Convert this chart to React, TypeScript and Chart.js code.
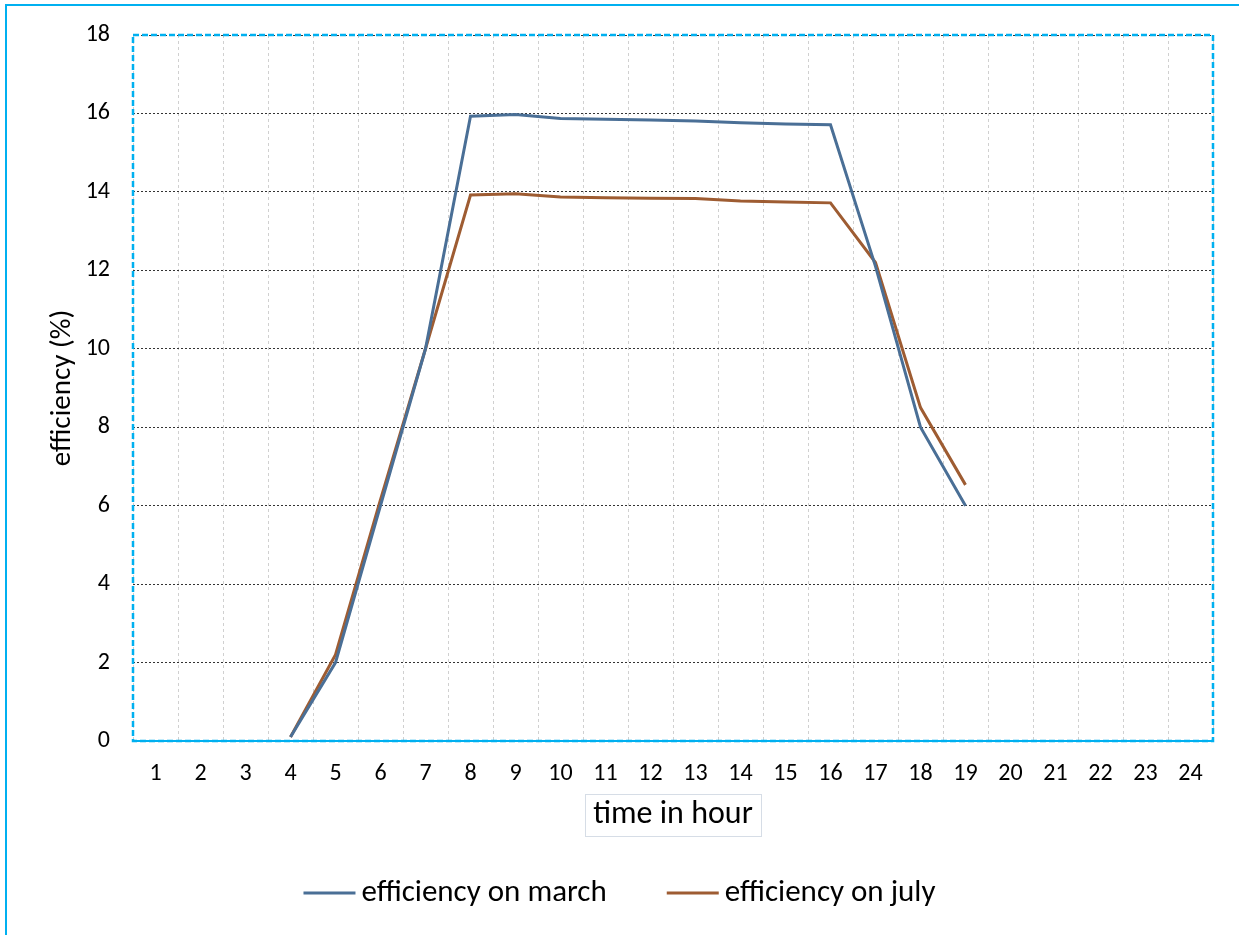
import React, { useEffect, useRef } from "react";
import { Chart, registerables } from "chart.js";

Chart.register(...registerables);

// Hour of day on the category axis
const hours = [
  "1", "2", "3", "4", "5", "6", "7", "8", "9", "10", "11", "12",
  "13", "14", "15", "16", "17", "18", "19", "20", "21", "22", "23", "24",
];

// Efficiency (%) per hour; null where the panel produces nothing
const marchEfficiency = [
  null, null, null, 0.1, 2.0, 6.0, 10.0, 15.93, 15.97, 15.87, 15.85, 15.83,
  15.81, 15.76, 15.73, 15.71, 12.1, 8.0, 6.0, null, null, null, null, null,
];
const julyEfficiency = [
  null, null, null, 0.1, 2.2, 6.15, 10.0, 13.92, 13.95, 13.87, 13.85, 13.84,
  13.83, 13.77, 13.74, 13.72, 12.2, 8.5, 6.53, null, null, null, null, null,
];

const seriesNames = ["efficiency on march", "efficiency on july"];
const seriesColors = ["#4a6f96", "#9e5c32"];

const FONT = "Carlito, Lato, 'Open Sans', sans-serif";
const CYAN = "#00b0f0";
const LEGEND_SIZE = 31;

// Frame, dashed plot border, boxed x-axis title and the legend row
const decorations = {
  id: "decorations",
  afterDraw(chart: any) {
    const { ctx, chartArea } = chart;
    const { left, right, top, bottom } = chartArea;
    ctx.save();

    // outer frame (top and left edges)
    ctx.strokeStyle = CYAN;
    ctx.lineWidth = 2;
    ctx.beginPath();
    ctx.moveTo(6, chart.height);
    ctx.lineTo(6, 5);
    ctx.lineTo(chart.width, 5);
    ctx.stroke();

    // dashed plot-area border
    ctx.setLineDash([6, 3]);
    ctx.lineWidth = 2.5;
    ctx.strokeStyle = CYAN;
    ctx.strokeRect(left, top, right - left, bottom - top);
    ctx.setLineDash([]);

    // solid category axis line
    ctx.lineWidth = 2;
    ctx.beginPath();
    ctx.moveTo(left, bottom);
    ctx.lineTo(right, bottom);
    ctx.stroke();

    // box around the x-axis title
    const xs = chart.scales.x;
    const t = xs.options.title;
    ctx.font = `${t.font.size}px ${FONT}`;
    const w = ctx.measureText(t.text).width;
    const cy = xs.bottom - t.padding.bottom - (t.font.size * 1.2) / 2;
    const cx = (left + right) / 2;
    const bw = w + 16;
    const bh = 42;
    ctx.strokeStyle = "#d6dde6";
    ctx.lineWidth = 1;
    ctx.strokeRect(Math.round(cx - bw / 2) + 0.5, Math.round(cy - bh / 2) + 0.5, Math.round(bw), bh);

    // legend: line sample followed by series name
    ctx.font = `${LEGEND_SIZE}px ${FONT}`;
    ctx.textBaseline = "middle";
    ctx.textAlign = "left";
    const sample = 52;
    const textGap = 6;
    const itemGap = 60;
    const widths = chart.data.datasets.map((d: any) => ctx.measureText(d.label).width);
    const total =
      widths.reduce((a: number, b: number) => a + b, 0) +
      widths.length * (sample + textGap) +
      itemGap * (widths.length - 1);
    let x = chart.width / 2 - total / 2;
    const ly = 893;
    chart.data.datasets.forEach((d: any, i: number) => {
      ctx.strokeStyle = d.borderColor;
      ctx.lineWidth = 3;
      ctx.beginPath();
      ctx.moveTo(x, ly);
      ctx.lineTo(x + sample, ly);
      ctx.stroke();
      ctx.fillStyle = "#000";
      ctx.fillText(d.label, x + sample + textGap, ly);
      x += sample + textGap + widths[i] + itemGap;
    });
    ctx.restore();
  },
};

export default function App() {
  const ref = useRef<HTMLCanvasElement>(null);

  useEffect(() => {
    if (!ref.current) return;
    const chart = new Chart(ref.current, {
      type: "line",
      data: {
        labels: hours,
        datasets: [
          {
            label: seriesNames[0],
            data: marchEfficiency,
            borderColor: seriesColors[0],
            backgroundColor: seriesColors[0],
            borderWidth: 3,
            pointRadius: 0,
            tension: 0,
          },
          {
            label: seriesNames[1],
            data: julyEfficiency,
            borderColor: seriesColors[1],
            backgroundColor: seriesColors[1],
            borderWidth: 3,
            pointRadius: 0,
            tension: 0,
          },
        ],
      },
      options: {
        animation: false,
        responsive: false,
        layout: { padding: { top: 35, right: 26, left: 0, bottom: 65 } },
        plugins: {
          tooltip: { enabled: false },
          legend: { display: false },
        },
        scales: {
          x: {
            type: "category",
            offset: true,
            afterFit: (s: any) => {
              s.height = 129;
              s.paddingLeft = 0;
              s.paddingRight = 0;
            },
            grid: {
              offset: true,
              color: "#d0d0d0",
              lineWidth: 1,
              drawTicks: false,
            },
            border: { display: false, dash: [3, 3] },
            ticks: {
              font: { family: FONT, size: 24 },
              color: "#000",
              padding: 19,
              maxRotation: 0,
              autoSkip: false,
            },
            title: {
              display: true,
              text: "time in hour",
              font: { family: FONT, size: 32 },
              color: "#000",
              padding: { top: 0, bottom: 36 },
            },
          },
          y: {
            min: 0,
            max: 18,
            afterFit: (s: any) => {
              s.width = 133;
              s.paddingTop = 0;
              s.paddingBottom = 0;
            },
            grid: {
              color: "#333",
              lineWidth: 1,
              drawTicks: false,
            },
            border: { display: false, dash: [2, 2] },
            ticks: {
              stepSize: 2,
              font: { family: FONT, size: 24 },
              color: "#000",
              padding: 23,
            },
            title: {
              display: true,
              text: "efficiency (%)",
              font: { family: FONT, size: 29 },
              color: "#000",
              padding: { top: 45, bottom: 0 },
            },
          },
        },
      },
      plugins: [decorations],
    } as any);
    return () => chart.destroy();
  }, []);

  return (
    <div style={{ position: "absolute", left: 0, top: 0, width: 1239, height: 935, background: "#fff" }}>
      <canvas ref={ref} width={1239} height={935} style={{ display: "block" }} />
    </div>
  );
}
